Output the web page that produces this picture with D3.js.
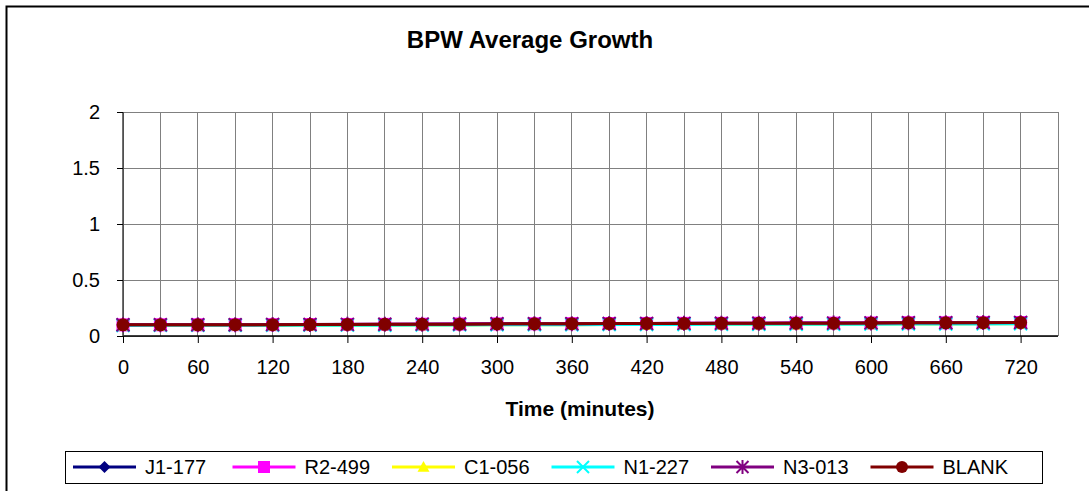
<!DOCTYPE html>
<html>
<head>
<meta charset="utf-8">
<script src="https://cdn.jsdelivr.net/npm/d3@7"></script>
<style>
  body { margin: 0; background: #fff; }
  svg { display: block; font-family: Arial, "Liberation Sans", sans-serif; }
</style>
</head>
<body>
<div id="chart"></div>
<script>
// time points (minutes)
const times = [0, 30, 60, 90, 120, 150, 180, 210, 240, 270, 300, 330, 360, 390, 420, 450, 480, 510, 540, 570, 600, 630, 660, 690, 720];
const xTickLabels = [0, 60, 120, 180, 240, 300, 360, 420, 480, 540, 600, 660, 720];
const yTickLabels = [0, 0.5, 1, 1.5, 2];

// series values (all hover around 0.1)
const j1_177 = [0.098, 0.099, 0.099, 0.100, 0.100, 0.101, 0.102, 0.103, 0.104, 0.105, 0.107, 0.108, 0.108, 0.110, 0.110, 0.111, 0.112, 0.112, 0.113, 0.113, 0.114, 0.115, 0.116, 0.117, 0.118];
const r2_499 = [0.099, 0.100, 0.100, 0.101, 0.101, 0.102, 0.103, 0.104, 0.105, 0.107, 0.108, 0.109, 0.110, 0.111, 0.112, 0.113, 0.113, 0.114, 0.115, 0.115, 0.116, 0.118, 0.118, 0.119, 0.120];
const c1_056 = [0.093, 0.094, 0.094, 0.095, 0.095, 0.096, 0.097, 0.097, 0.098, 0.099, 0.100, 0.101, 0.101, 0.102, 0.103, 0.104, 0.104, 0.105, 0.105, 0.106, 0.107, 0.108, 0.108, 0.109, 0.110];
const n1_227 = [0.094, 0.095, 0.095, 0.096, 0.096, 0.097, 0.097, 0.096, 0.098, 0.099, 0.100, 0.101, 0.101, 0.102, 0.103, 0.103, 0.104, 0.104, 0.105, 0.105, 0.106, 0.107, 0.107, 0.108, 0.109];
const n3_013 = [0.100, 0.100, 0.101, 0.101, 0.102, 0.103, 0.104, 0.105, 0.106, 0.107, 0.109, 0.110, 0.110, 0.112, 0.112, 0.113, 0.114, 0.114, 0.115, 0.115, 0.117, 0.119, 0.119, 0.120, 0.121];
const blank  = [0.100, 0.100, 0.100, 0.101, 0.101, 0.102, 0.103, 0.104, 0.105, 0.106, 0.108, 0.109, 0.110, 0.111, 0.112, 0.112, 0.113, 0.113, 0.114, 0.114, 0.116, 0.118, 0.118, 0.119, 0.120];

const seriesNames = ['J1-177', 'R2-499', 'C1-056', 'N1-227', 'N3-013', 'BLANK'];
const seriesValues = [j1_177, r2_499, c1_056, n1_227, n3_013, blank];
const seriesColors = ['#000080', '#FF00FF', '#FFFF00', '#00FFFF', '#800080', '#800000'];
const seriesMarkers = ['diamond', 'square', 'triangle', 'x', 'star', 'circle'];

const W = 1089, H = 491;
const plot = { left: 123, top: 112, right: 1058, bottom: 336 };

const svg = d3.select('#chart').append('svg').attr('width', W).attr('height', H);

// outer chart frame
svg.append('rect').attr('x', 6.5).attr('y', 6.5).attr('width', 1100).attr('height', 500)
    .attr('fill', '#fff').attr('stroke', '#000').attr('stroke-width', 2);

svg.append('text').attr('x', 530).attr('y', 48).attr('text-anchor', 'middle')
    .attr('font-size', 24).attr('font-weight', 'bold').text('BPW Average Growth');

// scales: x runs one step past the last point so the plot area ends on a gridline
let x = d3.scaleLinear().domain([0, 750]).range([plot.left, plot.right]);
let y = d3.scaleLinear().domain([0, 2]).range([plot.bottom, plot.top]);

// gridlines
svg.append('g').selectAll('line').data(times.concat([750])).join('line')
    .attr('x1', d => x(d)).attr('x2', d => x(d)).attr('y1', plot.top).attr('y2', plot.bottom)
    .attr('stroke', '#808080').attr('stroke-width', 1).attr('shape-rendering', 'crispEdges');
svg.append('g').selectAll('line').data(yTickLabels).join('line')
    .attr('x1', plot.left).attr('x2', plot.right).attr('y1', d => y(d)).attr('y2', d => y(d))
    .attr('stroke', '#808080').attr('stroke-width', 1).attr('shape-rendering', 'crispEdges');

// axes
let xAxis = d3.axisBottom(x).tickValues(xTickLabels).tickSize(7).tickPadding(17).tickFormat(d3.format('d'));
let gx = svg.append('g').attr('transform', `translate(0,${plot.bottom})`).call(xAxis);
gx.select('.domain').attr('d', `M${plot.left},0H${plot.right}`).attr('stroke', '#000').attr('stroke-width', 1.5);

let yAxis = d3.axisLeft(y).tickValues(yTickLabels).tickSize(6).tickPadding(17).tickFormat(d => String(d));
let gy = svg.append('g').attr('transform', `translate(${plot.left},0)`).call(yAxis);
gy.select('.domain').attr('d', `M0,${plot.top}V${plot.bottom}`).attr('stroke', '#404040').attr('stroke-width', 1.5);

[gx, gy].forEach(g => {
    g.selectAll('text').attr('font-size', 20).attr('font-family', 'Arial, "Liberation Sans", sans-serif').attr('fill', '#000');
    g.selectAll('.tick line').attr('stroke', '#000');
});

svg.append('text').attr('x', 580).attr('y', 416).attr('text-anchor', 'middle')
    .attr('font-size', 21).attr('font-weight', 'bold').text('Time (minutes)');

// marker drawing, r is half the marker size
function drawMarker(g, type, color, cx, cy, r) {
    if (type === 'diamond') {
        g.append('path').attr('d', `M${cx},${cy - r}L${cx + r},${cy}L${cx},${cy + r}L${cx - r},${cy}Z`).attr('fill', color);
    } else if (type === 'square') {
        g.append('rect').attr('x', cx - r).attr('y', cy - r).attr('width', 2 * r).attr('height', 2 * r).attr('fill', color);
    } else if (type === 'triangle') {
        g.append('path').attr('d', `M${cx},${cy - r}L${cx + r},${cy + r * 0.8}L${cx - r},${cy + r * 0.8}Z`).attr('fill', color);
    } else if (type === 'x') {
        g.append('path').attr('d', `M${cx - r},${cy - r}L${cx + r},${cy + r}M${cx + r},${cy - r}L${cx - r},${cy + r}`)
            .attr('stroke', color).attr('stroke-width', 2);
    } else if (type === 'star') {
        g.append('path').attr('d', `M${cx - r},${cy - r}L${cx + r},${cy + r}M${cx + r},${cy - r}L${cx - r},${cy + r}M${cx},${cy - r - 1}V${cy + r + 1}`)
            .attr('stroke', color).attr('stroke-width', 2);
    } else {
        g.append('circle').attr('cx', cx).attr('cy', cy).attr('r', r).attr('fill', color);
    }
}

let line = d3.line().x((d, i) => x(times[i])).y(d => y(d));

seriesValues.forEach((vals, s) => {
    let g = svg.append('g');
    g.append('path').datum(vals).attr('d', line).attr('fill', 'none')
        .attr('stroke', seriesColors[s]).attr('stroke-width', 3);
    vals.forEach((v, i) => drawMarker(g, seriesMarkers[s], seriesColors[s], x(times[i]), y(v), 6.5));
});

// legend
const legend = svg.append('g');
legend.append('rect').attr('x', 65.5).attr('y', 451.5).attr('width', 977).attr('height', 32)
    .attr('fill', '#fff').attr('stroke', '#000').attr('stroke-width', 1);
seriesNames.forEach((name, s) => {
    let lx = 73 + s * 159.5, ly = 467;
    legend.append('line').attr('x1', lx).attr('x2', lx + 63).attr('y1', ly).attr('y2', ly)
        .attr('stroke', seriesColors[s]).attr('stroke-width', 3);
    drawMarker(legend, seriesMarkers[s], seriesColors[s], lx + 31.5, ly, 6);
    legend.append('text').attr('x', lx + 72).attr('y', ly + 7).attr('font-size', 20).text(name);
});
</script>
</body>
</html>
